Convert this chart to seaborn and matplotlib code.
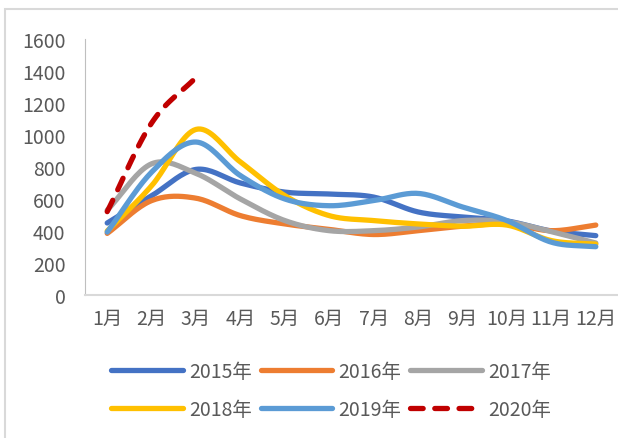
import numpy as np
import pandas as pd
import matplotlib
matplotlib.use("Agg")
import matplotlib.pyplot as plt
from matplotlib.patches import Rectangle
import seaborn as sns

# data
months = ["1月", "2月", "3月", "4月", "5月", "6月", "7月", "8月", "9月", "10月", "11月", "12月"]
y2015 = [450, 620, 785, 700, 643, 631, 612, 519, 487, 463, 400, 371]
y2016 = [385, 590, 605, 496, 444, 410, 378, 402, 430, 444, 402, 437]
y2017 = [530, 820, 760, 600, 465, 402, 402, 425, 465, 458, 396, 325]
y2018 = [400, 683, 1035, 831, 621, 496, 465, 444, 430, 437, 340, 318]
y2019 = [393, 768, 956, 746, 600, 558, 590, 635, 550, 465, 330, 302]
y2020 = [521, 1075, 1360]

years = ["2015年", "2016年", "2017年", "2018年", "2019年", "2020年"]
series = [y2015, y2016, y2017, y2018, y2019, y2020]
colors = ["#4472C4", "#ED7D31", "#A5A5A5", "#FFC000", "#5B9BD5", "#C00000"]


def smooth(vals, n=20):
    # catmull-rom, close to Excel's smoothed line
    p = np.array(vals, dtype=float)
    x = np.arange(1, len(p) + 1, dtype=float)
    pp = np.concatenate([[2 * p[0] - p[1]], p, [2 * p[-1] - p[-2]]])
    xs, ys = [], []
    for i in range(len(p) - 1):
        p0, p1, p2, p3 = pp[i], pp[i + 1], pp[i + 2], pp[i + 3]
        t = np.linspace(0, 1, n, endpoint=False)
        y = 0.5 * ((2 * p1) + (-p0 + p2) * t + (2 * p0 - 5 * p1 + 4 * p2 - p3) * t ** 2
                   + (-p0 + 3 * p1 - 3 * p2 + p3) * t ** 3)
        xs.extend(x[i] + t)
        ys.extend(y)
    xs.append(x[-1])
    ys.append(p[-1])
    return xs, ys


rows = []
for yr, vals in zip(years, series):
    xs, ys = smooth(vals)
    rows += [{"x": a, "v": b, "year": yr} for a, b in zip(xs, ys)]
df = pd.DataFrame(rows)

sns.set_style("white")
plt.rcParams["font.family"] = ["Noto Sans CJK SC", "DejaVu Sans"]
plt.rcParams["font.weight"] = "light"

fig = plt.figure(figsize=(6.18, 4.39), dpi=100)
fig.add_artist(Rectangle((5 / 618, -0.1), 1.2, 1.1 - 10 / 439, transform=fig.transFigure,
                         fill=False, edgecolor="#D9D9D9", linewidth=1.5))
ax = fig.add_axes([85 / 618, 143 / 439, 533 / 618, 256 / 439])

sns.lineplot(data=df, x="x", y="v", hue="year", palette=colors, sort=False,
             linewidth=3.8, ax=ax, legend=False)
for line, yr in zip(ax.lines, years):
    line.set_solid_capstyle("round")
    line.set_dash_capstyle("round")
    line.set_label(yr)
ax.lines[-1].set_linestyle((0, (2.4, 2.2)))

ax.set_xlim(0.5, 12.5)
ax.set_ylim(0, 1600)
ax.set_yticks(range(0, 1601, 200))
ax.set_xticks(range(1, 13))
ax.set_xticklabels(months)
ax.set_xlabel("")
ax.set_ylabel("")
ax.tick_params(axis="both", colors="#595959", labelsize=14)
ax.tick_params(axis="y", length=5, width=1, color="#BFBFBF", direction="out", pad=9)
ax.tick_params(axis="x", length=0, pad=9)
for s in ["top", "right"]:
    ax.spines[s].set_visible(False)
ax.spines["left"].set_color("#BFBFBF")
ax.spines["bottom"].set_color("#D9D9D9")
ax.spines["bottom"].set_linewidth(1.5)

# legend filled row by row like the original
h = ax.lines
order = [0, 3, 1, 4, 2, 5]
fig.legend([h[i] for i in order], [years[i] for i in order], loc="center",
           bbox_to_anchor=(331 / 618, 1 - 391.5 / 439), ncol=3, frameon=False,
           fontsize=14, handlelength=3.7, columnspacing=0.45, handletextpad=0.3,
           labelspacing=0.85, labelcolor="#595959")

fig.savefig("out.png", dpi=100)
